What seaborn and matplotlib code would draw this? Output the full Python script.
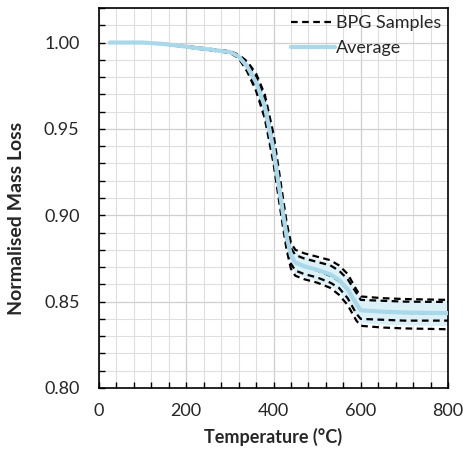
import numpy as np
import pandas as pd
import matplotlib
matplotlib.use("Agg")
import matplotlib.pyplot as plt
from matplotlib.ticker import MultipleLocator, FormatStrFormatter
import seaborn as sns

# Thermogravimetric runs of the BPG samples (temperature in °C, normalised mass)
temperature = [25, 50, 100, 150, 200, 250, 300, 320, 340, 360, 380, 400, 410,
               420, 430, 440, 450, 470, 500, 530, 550, 570, 590, 600, 650, 700, 800]

sample_1 = [1.000, 1.000, 1.000, 0.9993, 0.9980, 0.9965, 0.9950, 0.9930, 0.9890,
            0.9820, 0.9700, 0.9470, 0.9300, 0.9130, 0.8960, 0.8840, 0.8800,
            0.8780, 0.8760, 0.8740, 0.8710, 0.8660, 0.8570, 0.8530, 0.8520,
            0.8515, 0.8510]
sample_2 = [1.000, 1.000, 1.000, 0.9992, 0.9978, 0.9963, 0.9948, 0.9925, 0.9880,
            0.9800, 0.9670, 0.9420, 0.9250, 0.9080, 0.8920, 0.8810, 0.8770,
            0.8750, 0.8730, 0.8710, 0.8680, 0.8630, 0.8550, 0.8510, 0.8505,
            0.8500, 0.8498]
sample_3 = [1.000, 1.000, 1.000, 0.9991, 0.9976, 0.9960, 0.9945, 0.9920, 0.9860,
            0.9770, 0.9630, 0.9380, 0.9210, 0.9040, 0.8880, 0.8770, 0.8730,
            0.8705, 0.8680, 0.8650, 0.8620, 0.8570, 0.8490, 0.8450, 0.8440,
            0.8435, 0.8430]
sample_4 = [1.000, 1.000, 1.000, 0.9990, 0.9974, 0.9958, 0.9942, 0.9915, 0.9840,
            0.9740, 0.9590, 0.9330, 0.9160, 0.8990, 0.8830, 0.8720, 0.8680,
            0.8660, 0.8640, 0.8610, 0.8580, 0.8520, 0.8430, 0.8400, 0.8395,
            0.8390, 0.8390]
sample_5 = [1.000, 1.000, 1.000, 0.9990, 0.9972, 0.9956, 0.9940, 0.9910, 0.9830,
            0.9720, 0.9560, 0.9300, 0.9130, 0.8960, 0.8800, 0.8690, 0.8650,
            0.8630, 0.8610, 0.8580, 0.8540, 0.8480, 0.8390, 0.8360, 0.8350,
            0.8345, 0.8340]

samples = [sample_1, sample_2, sample_3, sample_4, sample_5]

runs = pd.DataFrame({"Temperature": temperature})
for i, s in enumerate(samples, start=1):
    runs[f"S{i}"] = s
sample_cols = [f"S{i}" for i in range(1, len(samples) + 1)]
runs["Average"] = runs[sample_cols].mean(axis=1)
runs["Std"] = runs[sample_cols].std(axis=1)

sns.set_theme(style="white")
plt.rcParams["font.family"] = ["Lato", "DejaVu Sans"]

fig = plt.figure(figsize=(4.64, 4.59), dpi=100)
ax = fig.add_axes([0.2134, 0.1547, 0.7521, 0.8279])

avg_color = "#a8d8ea"
band_color = "#dcf0f8"

ax.fill_between(runs["Temperature"], runs["Average"] - runs["Std"],
                runs["Average"] + runs["Std"], color=band_color, lw=0, zorder=2)

for k, col in enumerate(sample_cols):
    sns.lineplot(data=runs, x="Temperature", y=col, ax=ax, color="black",
                 lw=1.6, dashes=False, label="BPG Samples" if k == 0 else None,
                 zorder=3)
for line in ax.get_lines():
    line.set_dashes((3, 2))

sns.lineplot(data=runs, x="Temperature", y="Average", ax=ax, color=avg_color,
             lw=3.0, label="Average", zorder=4)

ax.set_xlim(0, 800)
ax.set_ylim(0.80, 1.02)
ax.xaxis.set_major_locator(MultipleLocator(200))
ax.xaxis.set_minor_locator(MultipleLocator(40))
ax.yaxis.set_major_locator(MultipleLocator(0.05))
ax.yaxis.set_minor_locator(MultipleLocator(0.01))
ax.yaxis.set_major_formatter(FormatStrFormatter("%.2f"))

ax.grid(which="major", color="#cfcfcf", lw=0.9, zorder=0)
ax.grid(which="minor", color="#dedede", lw=0.8, zorder=0)
ax.set_axisbelow(True)

for sp in ax.spines.values():
    sp.set_color("black")
    sp.set_linewidth(1.2)

ax.tick_params(which="both", direction="in", bottom=True, left=True,
               top=False, right=False, colors="black", labelcolor="#262626",
               labelsize=13)
ax.tick_params(which="major", length=4, width=1)
ax.tick_params(which="minor", length=4, width=1)
ax.tick_params(axis="x", pad=11)
ax.tick_params(axis="y", pad=14)

ax.set_xlabel("Temperature (°C)", fontsize=13, fontweight="bold", labelpad=6)
ax.set_ylabel("Normalised Mass Loss", fontsize=14, fontweight="bold")
ax.yaxis.set_label_coords(-0.212, 0.447)

leg = ax.legend(loc="upper right", bbox_to_anchor=(1.0, 1.0), frameon=False,
                fontsize=13, handlelength=2.4, handletextpad=0.05,
                labelspacing=0.5, borderaxespad=0.0)
for h in leg.get_lines():
    if h.get_color() == "black":
        h.set_dashes((3, 2))

fig.savefig("out.png", dpi=100, facecolor="white")
